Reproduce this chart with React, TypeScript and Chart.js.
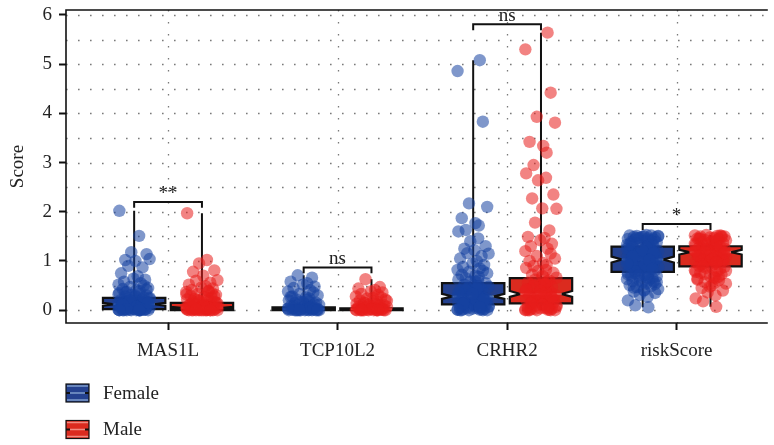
import React, { useEffect, useRef } from 'react';
import { Chart, registerables } from 'chart.js';

Chart.register(...registerables);

const CATEGORIES = ['MAS1L', 'TCP10L2', 'CRHR2', 'riskScore'];
const GROUPS = ['Female', 'Male'];

// box statistics per category
const FEMALE_MIN = [0, 0, 0, 0.06];
const FEMALE_Q1 = [0.02, 0.0, 0.12, 0.78];
const FEMALE_MEDIAN = [0.12, 0.02, 0.28, 1.03];
const FEMALE_Q3 = [0.25, 0.06, 0.55, 1.29];
const FEMALE_MAX = [2.02, 0.71, 5.08, 1.53];
const FEMALE_N = [180, 180, 180, 180];

const MALE_MIN = [0, 0, 0, 0.07];
const MALE_Q1 = [0.0, 0.0, 0.14, 0.89];
const MALE_MEDIAN = [0.05, 0.02, 0.33, 1.18];
const MALE_Q3 = [0.15, 0.04, 0.65, 1.3];
const MALE_MAX = [1.97, 0.63, 5.64, 1.53];
const MALE_N = [180, 180, 180, 180];

// significance brackets
const SIG_LABELS = ['**', 'ns', 'ns', '*'];
const SIG_HEIGHT = [2.2, 0.87, 5.81, 1.75];

// observations (jittered points)
const FEMALE_MAS1L = [2.02, 1.51, 1.18, 1.14, 1.02, 1.0, 1.04, 0.9, 0.87, 0.75, 0.69, 0.64, 0.62, 0.58, 0.55, 0.52, 0.5, 0.47, 0.45, 0.43, 0.41, 0.39, 0.37, 0.35, 0.33, 0.31, 0.3, 0.28, 0.27, 0.25, 0.24, 0.22, 0.21, 0.2, 0.19, 0.18, 0.17, 0.16, 0.15, 0.14, 0.13, 0.12, 0.12, 0.11, 0.1, 0.1, 0.09, 0.08, 0.08, 0.07, 0.06, 0.06, 0.05, 0.05, 0.04, 0.04, 0.03, 0.03, 0.02, 0.02, 0.02, 0.01, 0.01, 0.01, 0, 0, 0, 0, 0, 0, 0, 0, 0.42, 0.36, 0.29, 0.23, 0.18, 0.14, 0.09, 0.05, 0.03, 0.01, 0, 0, 0.32, 0.26, 0.2, 0.15, 0.11, 0.07, 0.04, 0.02, 0, 0];
const MALE_MAS1L = [1.97, 1.02, 0.95, 0.81, 0.78, 0.7, 0.61, 0.6, 0.56, 0.52, 0.49, 0.46, 0.44, 0.41, 0.39, 0.37, 0.35, 0.33, 0.31, 0.29, 0.27, 0.25, 0.23, 0.22, 0.2, 0.19, 0.17, 0.16, 0.15, 0.14, 0.12, 0.11, 0.1, 0.09, 0.08, 0.08, 0.07, 0.06, 0.05, 0.05, 0.04, 0.04, 0.03, 0.03, 0.02, 0.02, 0.02, 0.01, 0.01, 0.01, 0, 0, 0, 0, 0, 0, 0, 0, 0, 0, 0.38, 0.32, 0.26, 0.21, 0.16, 0.12, 0.08, 0.05, 0.03, 0.01, 0, 0, 0.28, 0.18, 0.1, 0.06, 0.02, 0];
const FEMALE_TCP10L2 = [0.71, 0.66, 0.58, 0.55, 0.52, 0.48, 0.45, 0.41, 0.38, 0.36, 0.33, 0.3, 0.28, 0.26, 0.24, 0.22, 0.2, 0.18, 0.17, 0.15, 0.14, 0.12, 0.11, 0.1, 0.09, 0.08, 0.07, 0.06, 0.05, 0.04, 0.04, 0.03, 0.03, 0.02, 0.02, 0.01, 0.01, 0.01, 0, 0, 0, 0, 0, 0, 0, 0, 0, 0, 0.27, 0.21, 0.16, 0.12, 0.08, 0.05, 0.03, 0.01, 0, 0];
const MALE_TCP10L2 = [0.63, 0.47, 0.44, 0.41, 0.38, 0.36, 0.33, 0.31, 0.28, 0.26, 0.24, 0.22, 0.2, 0.18, 0.17, 0.15, 0.13, 0.12, 0.11, 0.1, 0.09, 0.08, 0.07, 0.06, 0.05, 0.04, 0.04, 0.03, 0.03, 0.02, 0.02, 0.01, 0.01, 0.01, 0, 0, 0, 0, 0, 0, 0, 0, 0, 0, 0.25, 0.19, 0.14, 0.1, 0.07, 0.04, 0.02, 0.01, 0, 0];
const FEMALE_CRHR2 = [5.08, 4.86, 3.83, 2.17, 2.1, 1.87, 1.77, 1.72, 1.63, 1.6, 1.46, 1.4, 1.3, 1.25, 1.22, 1.15, 1.16, 1.1, 1.05, 1.0, 0.95, 0.92, 0.88, 0.85, 0.82, 0.8, 0.78, 0.75, 0.72, 0.7, 0.68, 0.65, 0.62, 0.6, 0.58, 0.55, 0.52, 0.5, 0.48, 0.45, 0.42, 0.4, 0.38, 0.36, 0.34, 0.32, 0.3, 0.28, 0.26, 0.25, 0.23, 0.22, 0.2, 0.18, 0.17, 0.15, 0.14, 0.12, 0.11, 0.1, 0.09, 0.08, 0.07, 0.06, 0.05, 0.04, 0.03, 0.02, 0.02, 0.01, 0.01, 0, 0, 0, 0, 0.58, 0.49, 0.41, 0.35, 0.29, 0.24, 0.19, 0.15, 0.11, 0.07, 0.04, 0.02, 0, 0.44, 0.33, 0.21, 0.13, 0.06, 0.01];
const MALE_CRHR2 = [5.64, 5.3, 4.42, 3.93, 3.81, 3.42, 3.34, 3.2, 2.95, 2.78, 2.69, 2.64, 2.35, 2.27, 2.07, 2.06, 1.78, 1.62, 1.49, 1.47, 1.42, 1.35, 1.3, 1.25, 1.2, 1.15, 1.1, 1.05, 1.0, 0.96, 0.92, 0.9, 0.86, 0.82, 0.8, 0.76, 0.72, 0.7, 0.66, 0.62, 0.6, 0.56, 0.52, 0.5, 0.47, 0.44, 0.41, 0.38, 0.36, 0.33, 0.31, 0.29, 0.27, 0.25, 0.23, 0.21, 0.19, 0.17, 0.15, 0.13, 0.12, 0.1, 0.09, 0.08, 0.06, 0.05, 0.04, 0.03, 0.02, 0.01, 0.01, 0, 0, 0, 0, 0.68, 0.58, 0.49, 0.42, 0.35, 0.28, 0.22, 0.16, 0.11, 0.07, 0.03, 0.01, 0, 0.53, 0.39, 0.26, 0.14, 0.05, 0];
const FEMALE_RISK = [0.06, 0.1, 0.2, 0.27, 0.31, 0.35, 0.38, 0.41, 0.43, 0.47, 0.49, 0.51, 0.54, 0.56, 0.58, 0.59, 0.62, 0.63, 0.65, 0.68, 0.69, 0.7, 0.72, 0.74, 0.75, 0.77, 0.78, 0.8, 0.81, 0.83, 0.85, 0.87, 0.88, 0.9, 0.91, 0.93, 0.95, 0.96, 0.97, 0.99, 1.0, 1.01, 1.03, 1.04, 1.06, 1.07, 1.08, 1.1, 1.11, 1.13, 1.14, 1.15, 1.17, 1.18, 1.2, 1.21, 1.23, 1.24, 1.26, 1.27, 1.29, 1.3, 1.32, 1.33, 1.35, 1.36, 1.38, 1.39, 1.41, 1.42, 1.44, 1.45, 1.46, 1.47, 1.48, 1.49, 1.5, 1.5, 1.51, 1.52, 1.52, 1.53, 1.49, 1.44, 1.37, 1.31, 1.25, 1.19, 1.12, 1.06, 0.98, 0.92, 0.86, 0.79, 0.73, 0.66, 0.6, 0.53, 0.46, 0.4, 1.51, 1.47, 1.4, 1.34, 1.28, 1.22, 1.16, 1.09, 1.02, 0.94, 0.84, 0.71, 0.57];
const MALE_RISK = [0.07, 0.18, 0.24, 0.3, 0.36, 0.4, 0.45, 0.5, 0.54, 0.57, 0.61, 0.64, 0.67, 0.7, 0.73, 0.76, 0.79, 0.81, 0.84, 0.86, 0.88, 0.9, 0.92, 0.94, 0.96, 0.98, 1.0, 1.01, 1.03, 1.05, 1.06, 1.08, 1.09, 1.11, 1.12, 1.14, 1.15, 1.17, 1.18, 1.19, 1.21, 1.22, 1.24, 1.25, 1.27, 1.28, 1.3, 1.31, 1.33, 1.34, 1.36, 1.37, 1.39, 1.4, 1.42, 1.43, 1.45, 1.46, 1.47, 1.48, 1.49, 1.5, 1.51, 1.52, 1.52, 1.53, 1.5, 1.45, 1.38, 1.32, 1.26, 1.2, 1.13, 1.07, 1.0, 0.93, 0.87, 0.8, 0.74, 0.68, 0.62, 0.55, 0.48, 1.51, 1.46, 1.41, 1.35, 1.29, 1.23, 1.16, 1.1, 1.04, 0.97, 0.89, 0.78, 0.65];

const FEMALE_VALUES = [FEMALE_MAS1L, FEMALE_TCP10L2, FEMALE_CRHR2, FEMALE_RISK];
const MALE_VALUES = [MALE_MAS1L, MALE_TCP10L2, MALE_CRHR2, MALE_RISK];

// layout / style constants
const JITTER = [-0.92, 0.31, -0.18, 0.77, -0.55, 0.08, 0.96, -0.37, 0.52, -0.81, 0.22, -0.04, 0.68, -0.63, 0.41, -0.97, 0.6, -0.26, 0.87, -0.71, 0.14, 0.35, -0.46];
const JITTER_WIDTH = 0.095;
const DODGE = 0.2;
const BOX_HALF = 0.184;
const FONT = "'Liberation Serif', 'DejaVu Serif', serif";
const FONT_SIZE = 19;
const FILL = ['#24418f', '#db2b1f'];
const MEDIAN_COLOR = ['#7d9ccc', '#f08a80'];
const POINT_COLOR = ['rgba(22, 66, 160, 0.55)', 'rgba(232, 30, 28, 0.55)'];

const makePoints = (values: number[][], g: number) => {
  const pts: { x: number; y: number }[] = [];
  values.forEach((arr, ci) => {
    arr.forEach((v, i) => {
      pts.push({ x: ci + 1 + (g === 0 ? -DODGE : DODGE) + JITTER[(i + ci * 7) % JITTER.length] * JITTER_WIDTH, y: v });
    });
  });
  return pts;
};

const boxPlugin = {
  id: 'boxes',
  beforeDatasetsDraw(chart: any) {
    const { ctx, chartArea: a, scales } = chart;
    const x = scales.x;
    const y = scales.y;
    ctx.save();
    // dotted grid
    ctx.strokeStyle = '#7a7a7a';
    ctx.lineWidth = 1.3;
    ctx.setLineDash([1.6, 10.4]);
    y.ticks.forEach((t: any) => {
      const py = Math.round(y.getPixelForValue(t.value)) + 0.5;
      ctx.beginPath();
      ctx.moveTo(a.left, py);
      ctx.lineTo(a.right, py);
      ctx.stroke();
    });
    x.ticks.forEach((t: any) => {
      const px = Math.round(x.getPixelForValue(t.value)) + 0.5;
      ctx.beginPath();
      ctx.moveTo(px, a.top);
      ctx.lineTo(px, a.bottom);
      ctx.stroke();
    });
    ctx.setLineDash([]);

    const stats = [
      [FEMALE_MIN, FEMALE_Q1, FEMALE_MEDIAN, FEMALE_Q3, FEMALE_MAX, FEMALE_N],
      [MALE_MIN, MALE_Q1, MALE_MEDIAN, MALE_Q3, MALE_MAX, MALE_N],
    ];
    CATEGORIES.forEach((_, ci) => {
      stats.forEach((s, g) => {
        const [mn, q1, med, q3, mx, n] = s.map((arr) => arr[ci]);
        const c = ci + 1 + (g === 0 ? -DODGE : DODGE);
        const cx = x.getPixelForValue(c);
        const l = x.getPixelForValue(c - BOX_HALF);
        const r = x.getPixelForValue(c + BOX_HALF);
        const inset = (r - l) * 0.17;
        const notch = (1.58 * (q3 - q1)) / Math.sqrt(n);
        const pQ1 = y.getPixelForValue(q1);
        const pQ3 = y.getPixelForValue(q3);
        const pMed = y.getPixelForValue(med);
        const pNL = y.getPixelForValue(med - notch);
        const pNH = y.getPixelForValue(med + notch);
        // whiskers
        ctx.strokeStyle = '#111';
        ctx.lineWidth = 2;
        ctx.beginPath();
        ctx.moveTo(cx, pQ3);
        ctx.lineTo(cx, y.getPixelForValue(mx));
        ctx.moveTo(cx, pQ1);
        ctx.lineTo(cx, y.getPixelForValue(mn));
        ctx.stroke();
        // notched box
        ctx.beginPath();
        ctx.moveTo(l, pQ3);
        ctx.lineTo(l, pNH);
        ctx.lineTo(l + inset, pMed);
        ctx.lineTo(l, pNL);
        ctx.lineTo(l, pQ1);
        ctx.lineTo(r, pQ1);
        ctx.lineTo(r, pNL);
        ctx.lineTo(r - inset, pMed);
        ctx.lineTo(r, pNH);
        ctx.lineTo(r, pQ3);
        ctx.closePath();
        ctx.fillStyle = FILL[g];
        ctx.fill();
        ctx.lineWidth = 2.2;
        ctx.strokeStyle = '#111';
        ctx.stroke();
        ctx.strokeStyle = MEDIAN_COLOR[g];
        ctx.lineWidth = 2;
        ctx.beginPath();
        ctx.moveTo(l + inset, pMed);
        ctx.lineTo(r - inset, pMed);
        ctx.stroke();
      });
    });
    ctx.restore();
  },
  afterDatasetsDraw(chart: any) {
    const { ctx, scales } = chart;
    const x = scales.x;
    const y = scales.y;
    ctx.save();
    ctx.strokeStyle = '#111';
    ctx.lineWidth = 2;
    ctx.fillStyle = '#222';
    ctx.font = `${FONT_SIZE}px ${FONT}`;
    ctx.textAlign = 'center';
    ctx.textBaseline = 'alphabetic';
    CATEGORIES.forEach((_, ci) => {
      const xl = x.getPixelForValue(ci + 1 - DODGE);
      const xr = x.getPixelForValue(ci + 1 + DODGE);
      const yh = y.getPixelForValue(SIG_HEIGHT[ci]);
      const yt = y.getPixelForValue(SIG_HEIGHT[ci] - 0.12);
      ctx.beginPath();
      ctx.moveTo(xl, yt);
      ctx.lineTo(xl, yh);
      ctx.lineTo(xr, yh);
      ctx.lineTo(xr, yt);
      ctx.stroke();
      ctx.fillText(SIG_LABELS[ci], (xl + xr) / 2, yh - 3);
    });
    ctx.restore();
  },
  afterDraw(chart: any) {
    const { ctx, chartArea: a } = chart;
    ctx.save();
    // frame: left, top, bottom
    ctx.strokeStyle = '#111';
    ctx.lineWidth = 1.6;
    ctx.beginPath();
    ctx.moveTo(a.right, a.top);
    ctx.lineTo(a.left, a.top);
    ctx.lineTo(a.left, a.bottom);
    ctx.lineTo(a.right, a.bottom);
    ctx.stroke();
    // legend
    ctx.font = `${FONT_SIZE}px ${FONT}`;
    ctx.textBaseline = 'middle';
    ctx.textAlign = 'left';
    chart.data.datasets.forEach((ds: any, g: number) => {
      const cy = 393 + g * 36.5;
      const lx = 66;
      const w = 23;
      const h = 18;
      ctx.fillStyle = FILL[g];
      ctx.fillRect(lx, cy - h / 2, w, h);
      ctx.strokeStyle = '#111';
      ctx.lineWidth = 1.2;
      ctx.strokeRect(lx, cy - h / 2, w, h);
      ctx.strokeStyle = MEDIAN_COLOR[g];
      ctx.lineWidth = 1.5;
      ctx.beginPath();
      ctx.moveTo(lx + 1, cy - h / 2 + 2);
      ctx.lineTo(lx + w - 1, cy - h / 2 + 2);
      ctx.moveTo(lx + 1, cy + h / 2 - 2);
      ctx.lineTo(lx + w - 1, cy + h / 2 - 2);
      ctx.moveTo(lx + 4, cy);
      ctx.lineTo(lx + w - 4, cy);
      ctx.stroke();
      ctx.strokeStyle = '#111';
      ctx.lineWidth = 2;
      ctx.beginPath();
      ctx.moveTo(lx, cy);
      ctx.lineTo(lx + 4, cy);
      ctx.moveTo(lx + w - 4, cy);
      ctx.lineTo(lx + w, cy);
      ctx.stroke();
      ctx.fillStyle = '#222';
      ctx.fillText(ds.label, 103, cy + 1);
    });
    ctx.restore();
  },
};

export default function App() {
  const ref = useRef<HTMLCanvasElement>(null);
  useEffect(() => {
    if (!ref.current) return;
    Chart.defaults.font.family = FONT;
    const chart = new Chart(ref.current, {
      type: 'scatter',
      data: {
        datasets: [
          {
            label: GROUPS[0],
            data: makePoints(FEMALE_VALUES, 0),
            backgroundColor: POINT_COLOR[0],
            borderWidth: 0,
            pointRadius: 6.2,
          },
          {
            label: GROUPS[1],
            data: makePoints(MALE_VALUES, 1),
            backgroundColor: POINT_COLOR[1],
            borderWidth: 0,
            pointRadius: 6.2,
          },
        ],
      },
      options: {
        animation: false,
        responsive: false,
        events: [],
        layout: { padding: { top: 10, left: 0, right: 0, bottom: 0 } },
        plugins: { legend: { display: false }, tooltip: { enabled: false } },
        scales: {
          x: {
            type: 'linear',
            min: 0.398,
            max: 4.538,
            afterBuildTicks: (scale: any) => {
              scale.ticks = CATEGORIES.map((_, i) => ({ value: i + 1 }));
            },
            afterFit: (scale: any) => {
              scale.height = 122;
              scale.paddingLeft = 0;
              scale.paddingRight = 0;
            },
            ticks: {
              callback: (v: any) => CATEGORIES[Math.round(v) - 1] ?? '',
              color: '#222',
              font: { size: FONT_SIZE, family: FONT },
              padding: 10,
              maxRotation: 0,
              autoSkip: false,
            },
            grid: {
              drawOnChartArea: false,
              color: 'rgba(0,0,0,0)',
              tickColor: '#111',
              tickLength: 7,
              tickWidth: 2,
            },
            border: { display: false },
          },
          y: {
            type: 'linear',
            min: -0.26,
            max: 6.1,
            afterFit: (scale: any) => {
              scale.width = 66;
              scale.paddingTop = 0;
              scale.paddingBottom = 0;
            },
            ticks: {
              stepSize: 0.5,
              includeBounds: false,
              autoSkip: false,
              callback: (v: any) => (Number.isInteger(v) ? String(v) : ''),
              color: '#222',
              font: { size: FONT_SIZE, family: FONT },
              padding: 7,
            },
            grid: {
              drawOnChartArea: false,
              color: 'rgba(0,0,0,0)',
              tickColor: (c: any) => (c.tick && Number.isInteger(c.tick.value) ? '#111' : 'rgba(0,0,0,0)'),
              tickLength: 7,
              tickWidth: 2,
            },
            border: { display: false },
            title: {
              display: true,
              text: 'Score',
              color: '#222',
              font: { size: FONT_SIZE, family: FONT },
              padding: { top: 7, bottom: 0 },
            },
          },
        },
      },
      plugins: [boxPlugin],
    });
    return () => chart.destroy();
  }, []);
  return (
    <canvas
      ref={ref}
      width={774}
      height={445}
      style={{ position: 'fixed', left: 0, top: 0, width: 774, height: 445 }}
    />
  );
}
